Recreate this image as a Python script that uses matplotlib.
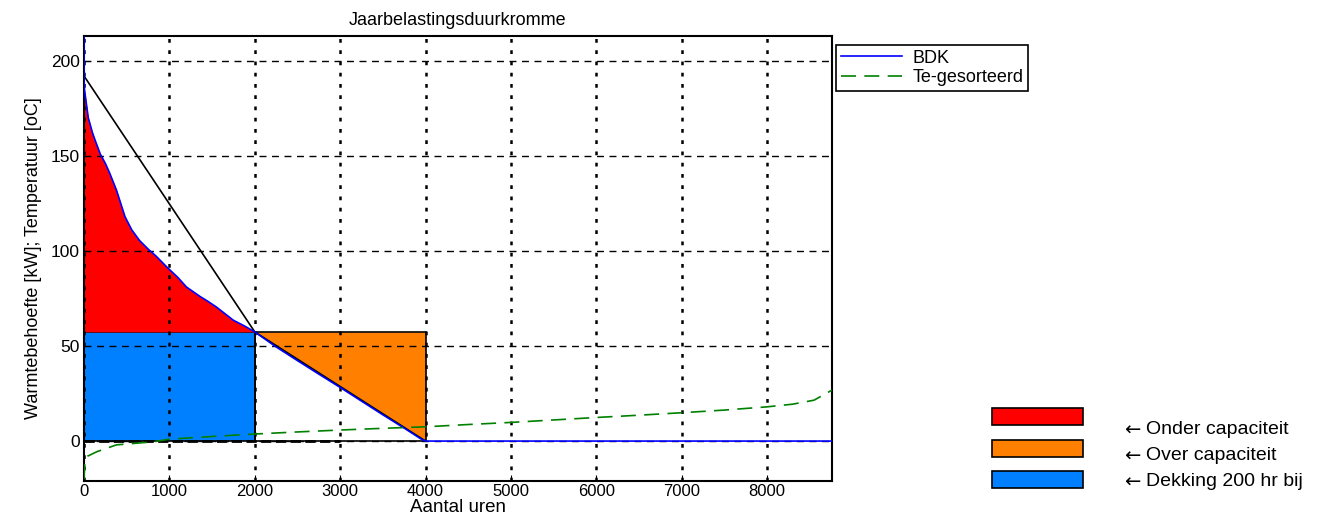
import numpy as np
import matplotlib.pyplot as plt
from matplotlib.patches import Rectangle

plt.rcParams['font.family'] = ['Liberation Sans', 'DejaVu Sans']

# Belastingsduurkromme (gesorteerde warmtevraag per uur)
bdk_hours = [0, 0, 5, 20, 50, 100, 140, 190, 250, 300, 380, 430, 480, 560, 650, 750,
             850, 970, 1100, 1200, 1360, 1450, 1550, 1650, 1750, 1880, 2000,
             2250, 2500, 2750, 3000, 3250, 3500, 3750, 3950, 4000, 8760]
bdk_kw = [213, 192, 185, 180, 170, 162, 157, 151, 146, 141, 132, 125, 118, 111, 105.5, 101,
          97, 91.5, 86, 81, 76, 73.5, 70.5, 67, 63.5, 60.5, 57.4,
          49.5, 42.3, 35.2, 28.2, 21.0, 13.8, 6.8, 1.0, 0, 0]

# Buitentemperatuur, oplopend gesorteerd
te_hours = [0, 10, 40, 150, 380, 810, 1000, 1500, 2000, 2500, 3000, 3500, 4000,
            4500, 5000, 5500, 6000, 6500, 7000, 7500, 8000, 8300, 8550, 8760]
te_temp = [-20, -11, -8, -5.6, -2, -0.4, 1.0, 2.4, 3.7, 4.8, 5.8, 6.7, 7.5,
           8.7, 9.8, 11.1, 12.4, 13.6, 14.9, 16.3, 18.0, 19.4, 21.5, 26.8]

# Ketelvermogen en dekkingsgrenzen
capacity_kw = 57.4
cover_hours = 2000
end_hours = 4000
peak_line_hours = [0, cover_hours, end_hours]
peak_line_kw = [192, capacity_kw, 0]

fig = plt.figure(figsize=(13.3, 5.17), dpi=100)
ax = fig.add_axes([84 / 1330, 1 - 481 / 517, 748 / 1330, 445 / 517])

h = np.array(bdk_hours, dtype=float)
q = np.array(bdk_kw, dtype=float)

# Dekking door de ketel
ax.bar(0, capacity_kw, width=cover_hours, align='edge', color='#0080ff',
       edgecolor='black', linewidth=1.2, zorder=2)

# Onder capaciteit: vraag boven ketelvermogen
m = h <= cover_hours
ax.fill_between(h[m], q[m], capacity_kw, where=q[m] >= capacity_kw,
                color='#ff0000', linewidth=0, zorder=2)

# Over capaciteit: ketelvermogen boven de vraag
m2 = (h >= cover_hours) & (h <= end_hours)
ax.fill_between(h[m2], q[m2], capacity_kw, color='#ff8000', linewidth=0, zorder=2)
ax.bar(cover_hours, capacity_kw, width=end_hours - cover_hours, align='edge',
       fill=False, edgecolor='black', linewidth=1.2, zorder=3)

ax.plot([0, 3000], [0, 0], color='black', linestyle='--', linewidth=2, zorder=3)
ax.plot(peak_line_hours, peak_line_kw, color='black', linewidth=1.2, zorder=4)

ax.plot(bdk_hours, bdk_kw, color='blue', linewidth=1.2, label='BDK', zorder=5)
ax.plot(te_hours, te_temp, color='green', linestyle=(0, (9, 5)), linewidth=1.2,
        label='Te-gesorteerd', zorder=5)

ax.set_xlim(0, 8760)
ax.set_ylim(-21, 213)
ax.set_xticks(np.arange(0, 9000, 1000))
ax.set_yticks([0, 50, 100, 150, 200])
ax.tick_params(direction='in', labelsize=12.5, length=4, pad=3)
ax.tick_params(axis='x', labelsize=12, pad=2)
ax.xaxis.grid(True, color='black', linestyle=(0, (1.5, 3)), linewidth=1.8)
ax.yaxis.grid(True, color='black', linestyle=(0, (5, 4)), linewidth=1)
ax.set_axisbelow(False)
for s in ax.spines.values():
    s.set_linewidth(1.5)

ax.set_title('Jaarbelastingsduurkromme', fontsize=13, pad=8)
ax.set_xlabel('Aantal uren', fontsize=13.5, labelpad=0)
ax.set_ylabel('Warmtebehoefte [kW]; Temperatuur [oC]', fontsize=13, labelpad=6)

leg = ax.legend(loc='upper left', bbox_to_anchor=(836 / 1330, 1 - 45 / 517),
                bbox_transform=fig.transFigure, borderaxespad=0, fancybox=False,
                edgecolor='black', framealpha=1, fontsize=13, borderpad=0.25,
                handlelength=3.4, labelspacing=0.15, handletextpad=0.6)
leg.get_frame().set_linewidth(1.2)

# Kleurverklaring rechtsonder
key_colors = ['#ff0000', '#ff8000', '#0080ff']
key_labels = ['Onder capaciteit', 'Over capaciteit', 'Dekking 200 hr bij']
for i, (c, lab) in enumerate(zip(key_colors, key_labels)):
    y = 1 - (425 + 31.5 * i) / 517
    fig.patches.append(Rectangle((992 / 1330, y), 91 / 1330, 17 / 517, facecolor=c,
                                 edgecolor='black', linewidth=1.2,
                                 transform=fig.transFigure, figure=fig))
    ty = 1 - (430 + 26 * i) / 517
    fig.text(1124 / 1330, ty, '\u2190', fontsize=14, va='center', family='DejaVu Sans')
    fig.text(1146 / 1330, ty, lab, fontsize=14, va='center')

fig.savefig('out.png', dpi=100)
